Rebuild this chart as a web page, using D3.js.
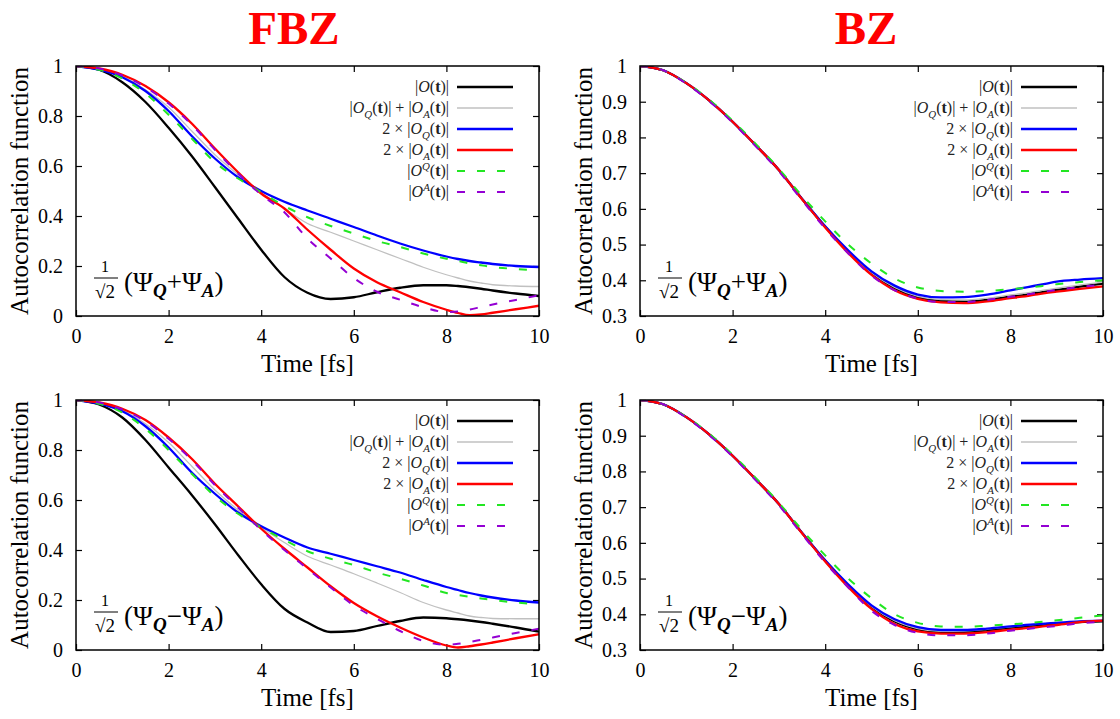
<!DOCTYPE html>
<html>
<head>
<meta charset="utf-8">
<script src="https://cdn.jsdelivr.net/npm/d3@7"></script>
<style>
  body { margin: 0; background: #fff; }
</style>
</head>
<body>
<svg id="chart" width="1120" height="719"></svg>
<script>
// time grid [fs]
const time = [0,0.5,1,1.5,2,2.5,3,3.5,4,4.5,5,5.5,6,6.5,7,7.5,8,8.25,8.5,8.75,9,9.5,10];

// FBZ, (Psi_Q + Psi_A)/sqrt2
const fbzPlusO  = [1,.985,.935,.856,.753,.64,.516,.39,.265,.156,.093,.068,.075,.095,.113,.123,.123,.12,.115,.109,.102,.09,.08];
const fbzPlusQA = [1,.99,.96,.905,.835,.74,.645,.565,.49,.43,.37,.335,.30,.265,.23,.195,.165,.152,.14,.132,.125,.12,.118];
const fbzPlusQ  = [1,.985,.955,.90,.82,.72,.63,.555,.50,.457,.422,.389,.356,.322,.29,.262,.238,.228,.22,.214,.208,.2,.196];
const fbzPlusA  = [1,.99,.965,.92,.855,.77,.67,.575,.49,.43,.345,.265,.19,.135,.095,.056,.025,.012,.003,.006,.013,.027,.041];
const fbzPlusSQ = [1,.985,.95,.89,.805,.71,.615,.55,.495,.44,.395,.36,.33,.30,.276,.25,.229,.22,.21,.203,.196,.188,.183];
const fbzPlusSA = [1,.99,.962,.915,.85,.765,.665,.57,.485,.415,.31,.23,.152,.097,.065,.035,.016,.018,.026,.036,.046,.064,.083];

// FBZ, (Psi_Q - Psi_A)/sqrt2
const fbzMinusO  = [1,.982,.93,.84,.73,.62,.503,.38,.263,.165,.11,.072,.076,.096,.116,.13,.127,.123,.118,.112,.105,.09,.073];
const fbzMinusQA = [1,.99,.96,.905,.83,.735,.64,.56,.49,.43,.375,.34,.305,.268,.23,.19,.16,.148,.136,.13,.126,.125,.125];
const fbzMinusQ  = [1,.985,.955,.895,.81,.71,.625,.55,.495,.45,.41,.385,.36,.335,.31,.28,.252,.24,.228,.218,.21,.198,.19];
const fbzMinusA  = [1,.99,.965,.92,.85,.765,.665,.575,.485,.405,.33,.255,.188,.135,.09,.05,.018,.01,.015,.022,.03,.047,.063];
const fbzMinusSQ = [1,.985,.95,.885,.80,.705,.615,.545,.49,.44,.395,.365,.34,.31,.285,.258,.228,.22,.213,.206,.2,.19,.183];
const fbzMinusSA = [1,.99,.962,.915,.845,.76,.66,.57,.48,.40,.325,.25,.178,.125,.076,.036,.021,.025,.032,.041,.05,.068,.085];

// BZ, (Psi_Q + Psi_A)/sqrt2
const bzPlusO  = [1,.988,.952,.903,.844,.778,.709,.628,.55,.48,.42,.378,.352,.342,.34,.345,.354,.358,.363,.368,.373,.382,.391];
const bzPlusQA = [1,.988,.952,.903,.844,.778,.709,.628,.55,.48,.421,.38,.355,.346,.345,.35,.359,.363,.368,.373,.378,.387,.395];
const bzPlusQ  = [1,.988,.952,.903,.844,.778,.709,.628,.551,.483,.425,.385,.36,.352,.353,.36,.372,.378,.384,.39,.396,.402,.406];
const bzPlusA  = [1,.988,.952,.903,.844,.778,.709,.627,.548,.476,.415,.372,.348,.338,.336,.341,.35,.354,.359,.364,.368,.376,.383];
const bzPlusSQ = [1,.988,.953,.905,.847,.782,.712,.636,.565,.5,.447,.405,.38,.37,.368,.37,.375,.378,.381,.385,.389,.395,.40];
const bzPlusSA = [1,.988,.951,.901,.842,.775,.705,.624,.545,.475,.413,.372,.349,.339,.339,.345,.354,.358,.363,.368,.373,.381,.388];

// BZ, (Psi_Q - Psi_A)/sqrt2
const bzMinusO  = [1,.988,.952,.903,.844,.778,.709,.628,.55,.48,.421,.38,.358,.35,.35,.355,.362,.365,.368,.371,.374,.378,.38];
const bzMinusQA = [1,.988,.952,.903,.844,.778,.709,.628,.55,.48,.422,.382,.36,.352,.353,.358,.365,.368,.371,.374,.377,.381,.383];
const bzMinusQ  = [1,.988,.952,.903,.844,.778,.709,.628,.551,.483,.425,.386,.364,.356,.356,.36,.366,.369,.372,.374,.376,.38,.382];
const bzMinusA  = [1,.988,.952,.903,.844,.778,.709,.627,.548,.476,.415,.373,.352,.346,.346,.35,.357,.36,.363,.367,.37,.378,.382];
const bzMinusSQ = [1,.988,.953,.905,.847,.782,.712,.636,.565,.5,.445,.4,.376,.366,.365,.368,.372,.374,.377,.38,.383,.39,.397];
const bzMinusSA = [1,.988,.951,.901,.842,.775,.705,.624,.545,.475,.41,.37,.348,.341,.341,.346,.354,.357,.361,.364,.367,.375,.379];

const xTicks = [0,2,4,6,8,10];
const yTicksFBZ = [0,0.2,0.4,0.6,0.8,1];
const yLabelsFBZ = ["0","0.2","0.4","0.6","0.8","1"];
const yTicksBZ = [0.3,0.4,0.5,0.6,0.7,0.8,0.9,1];
const yLabelsBZ = ["0.3","0.4","0.5","0.6","0.7","0.8","0.9","1"];
const columnTitles = ["FBZ", "BZ"];

// legend labels: pieces [text, style]  (i italic, b bold, sub, sup)
const legendLabels = [
  [["|"],["O","i"],["("],["t","b"],[")|"]],
  [["|"],["O","i"],["Q","sub"],["("],["t","b"],[")| + |"],["O","i"],["A","sub"],["("],["t","b"],[")|"]],
  [["2 × |"],["O","i"],["Q","sub"],["("],["t","b"],[")|"]],
  [["2 × |"],["O","i"],["A","sub"],["("],["t","b"],[")|"]],
  [["|"],["O","i"],["Q","sup"],["("],["t","b"],[")|"]],
  [["|"],["O","i"],["A","sup"],["("],["t","b"],[")|"]]
];
const seriesStyle = [
  {color:"#000000", width:2.3, dash:null},
  {color:"#c0c0c0", width:1.3, dash:null},
  {color:"#0000ff", width:2.3, dash:null},
  {color:"#ff0000", width:2.3, dash:null},
  {color:"#22e622", width:2.0, dash:"8,12"},
  {color:"#9400d3", width:2.0, dash:"8,12"}
];

const panels = [
  {x0:76,  y0:66,  domain:[0,1],   ticks:yTicksFBZ, labels:yLabelsFBZ, sign:"+", series:[fbzPlusO,fbzPlusQA,fbzPlusQ,fbzPlusA,fbzPlusSQ,fbzPlusSA]},
  {x0:640, y0:66,  domain:[0.3,1], ticks:yTicksBZ,  labels:yLabelsBZ,  sign:"+", series:[bzPlusO,bzPlusQA,bzPlusQ,bzPlusA,bzPlusSQ,bzPlusSA]},
  {x0:76,  y0:400, domain:[0,1],   ticks:yTicksFBZ, labels:yLabelsFBZ, sign:"−", series:[fbzMinusO,fbzMinusQA,fbzMinusQ,fbzMinusA,fbzMinusSQ,fbzMinusSA]},
  {x0:640, y0:400, domain:[0.3,1], ticks:yTicksBZ,  labels:yLabelsBZ,  sign:"−", series:[bzMinusO,bzMinusQA,bzMinusQ,bzMinusA,bzMinusSQ,bzMinusSA]}
];

const SERIF = "'Liberation Serif', 'Times New Roman', Times, serif";
const W = 463, H = 250;
const svg = d3.select("#chart");

// column titles
svg.selectAll(".title").data(columnTitles).enter().append("text")
  .attr("x", (d, i) => i === 0 ? 294 : 866)
  .attr("y", 44)
  .attr("text-anchor", "middle")
  .style("font-family", SERIF)
  .attr("font-size", 47).attr("font-weight", "bold")
  .attr("fill", "#ff0000")
  .text(d => d);

function richText(sel, parts, size) {
  let shift = 0;
  parts.forEach(p => {
    const ts = sel.append("tspan").text(p[0]);
    const st = p[1];
    let target = 0;
    if (st === "i") ts.attr("font-style", "italic");
    if (st === "b") ts.attr("font-weight", "bold");
    if (st === "sub") { target = size * 0.3; ts.attr("font-size", size * 0.68).attr("font-style", "italic"); }
    if (st === "sup") { target = -size * 0.38; ts.attr("font-size", size * 0.68).attr("font-style", "italic"); }
    if (target !== shift) { ts.attr("dy", target - shift); shift = target; }
  });
}

panels.forEach((p, pi) => {
  const g = svg.append("g").attr("transform", `translate(${p.x0},${p.y0})`);
  const x = d3.scaleLinear().domain([0, 10]).range([0, W]);
  const y = d3.scaleLinear().domain(p.domain).range([H, 0]);
  const clipId = "clip" + pi;
  g.append("clipPath").attr("id", clipId).append("rect").attr("width", W).attr("height", H);

  // axes with inward ticks, mirrored
  const fmt = d => p.labels[p.ticks.indexOf(d)];
  g.append("g").attr("transform", `translate(0,${H})`)
    .call(d3.axisBottom(x).tickValues(xTicks).tickSize(-6).tickPadding(13).tickFormat(d3.format("d")))
    .call(a => a.select(".domain").remove());
  g.append("g")
    .call(d3.axisTop(x).tickValues(xTicks).tickSize(-6).tickFormat(""))
    .call(a => a.select(".domain").remove());
  g.append("g")
    .call(d3.axisLeft(y).tickValues(p.ticks).tickSize(-6).tickPadding(13).tickFormat(fmt))
    .call(a => a.select(".domain").remove());
  g.append("g").attr("transform", `translate(${W},0)`)
    .call(d3.axisRight(y).tickValues(p.ticks).tickSize(-6).tickFormat(""))
    .call(a => a.select(".domain").remove());
  g.selectAll(".tick text").attr("font-size", 20).attr("fill", "#000")
    .style("font-family", SERIF);
  g.selectAll(".tick line").attr("stroke", "#000").attr("stroke-width", 1.2);

  // curves
  const line = d3.line().x((d, i) => x(time[i])).y(d => y(d)).curve(d3.curveMonotoneX);
  g.append("g").attr("clip-path", `url(#${clipId})`)
    .selectAll("path").data(p.series).enter().append("path")
    .attr("d", d => line(d))
    .attr("fill", "none")
    .attr("stroke", (d, i) => seriesStyle[i].color)
    .attr("stroke-width", (d, i) => seriesStyle[i].width)
    .attr("stroke-dasharray", (d, i) => seriesStyle[i].dash);

  // frame
  g.append("rect").attr("width", W).attr("height", H)
    .attr("fill", "none").attr("stroke", "#000").attr("stroke-width", 1.5);

  // legend
  const lg = g.append("g");
  legendLabels.forEach((lab, i) => {
    const ry = 21 + i * 21;
    const t = lg.append("text").attr("x", W - 90).attr("y", ry + 5)
      .attr("text-anchor", "end").attr("font-size", 16).attr("fill", "#222")
      .style("font-family", SERIF);
    richText(t, lab, 16);
    lg.append("line").attr("x1", W - 82).attr("x2", W - 26).attr("y1", ry).attr("y2", ry)
      .attr("stroke", seriesStyle[i].color).attr("stroke-width", seriesStyle[i].width)
      .attr("stroke-dasharray", seriesStyle[i].dash);
  });

  // state label: 1/sqrt2 (Psi_Q +/- Psi_A)
  const ann = g.append("g").style("font-family", SERIF);
  ann.append("text").attr("x", 29).attr("y", H - 44).attr("text-anchor", "middle")
    .style("font-family", SERIF).attr("font-size", 16).text("1");
  ann.append("line").attr("x1", 18).attr("x2", 42).attr("y1", H - 38).attr("y2", H - 38)
    .attr("stroke", "#000").attr("stroke-width", 1);
  ann.append("text").attr("x", 29).attr("y", H - 18).attr("text-anchor", "middle")
    .style("font-family", SERIF).attr("font-size", 19).text("√2");
  const at = ann.append("text").attr("x", 48).attr("y", H - 25).attr("font-size", 27)
    .style("font-family", SERIF);
  at.append("tspan").text("(Ψ");
  at.append("tspan").text("Q").attr("font-size", 19).attr("font-weight", "bold").attr("font-style", "italic").attr("dy", 6);
  at.append("tspan").text(p.sign + "Ψ").attr("dy", -6);
  at.append("tspan").text("A").attr("font-size", 19).attr("font-weight", "bold").attr("font-style", "italic").attr("dy", 6);
  at.append("tspan").text(")").attr("dy", -6);

  // axis titles
  g.append("text").attr("x", W / 2).attr("y", H + 56).attr("text-anchor", "middle")
    .style("font-family", SERIF).attr("font-size", 25).text("Time [fs]");
  g.append("text").attr("transform", `translate(-48,${H / 2}) rotate(-90)`)
    .attr("text-anchor", "middle").style("font-family", SERIF)
    .attr("font-size", 25).text("Autocorrelation function");
});
</script>
</body>
</html>
